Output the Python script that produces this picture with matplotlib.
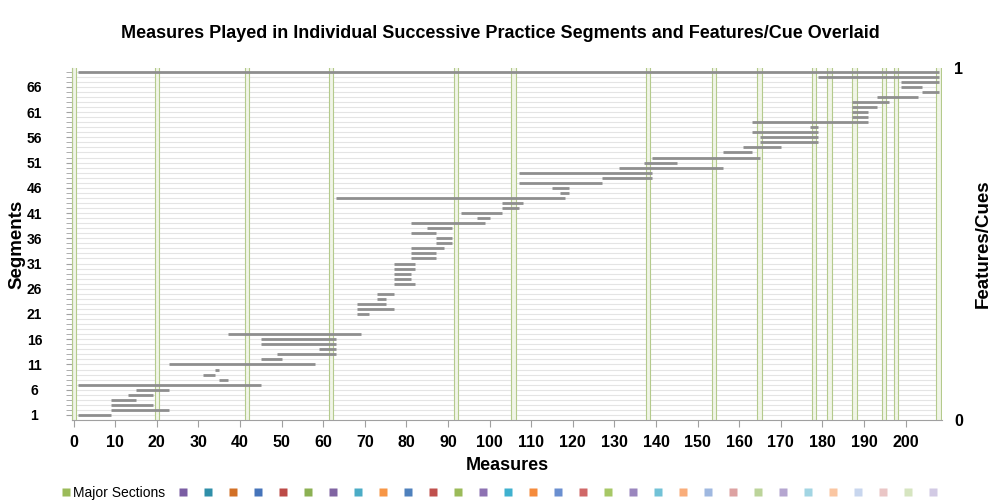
import matplotlib
matplotlib.use("Agg")
import matplotlib.pyplot as plt
from matplotlib.lines import Line2D
import numpy as np

plt.rcParams['font.family'] = ['Liberation Sans', 'DejaVu Sans']

# practice segments: segment number, first and last measure played
seg_num = [1, 2, 3, 4, 5, 6, 7, 8, 9, 10, 11, 12, 13, 14, 15, 16, 17,
           21, 22, 23, 24, 25, 27, 28, 29, 30, 31, 32, 33, 34, 35, 36, 37,
           38, 39, 40, 41, 42, 43, 44, 45, 46, 47, 48, 49, 50, 51, 52, 53,
           54, 55, 56, 57, 58, 59, 60, 61, 62, 63, 64, 65, 66, 67, 68, 69]
seg_start = [1, 9, 9, 9, 13, 15, 1, 35, 31, 34, 23, 45, 49, 59, 45, 45, 37,
             68, 68, 68, 73, 73, 77, 77, 77, 77, 77, 81, 81, 81, 87, 87, 81,
             85, 81, 97, 93, 103, 103, 63, 117, 115, 107, 127, 107, 131, 137, 139, 156,
             161, 165, 165, 163, 177, 163, 187, 187, 187, 187, 193, 204, 199, 199, 179, 1]
seg_end = [9, 23, 19, 15, 19, 23, 45, 37, 34, 35, 58, 50, 63, 63, 63, 63, 69,
           71, 77, 75, 75, 77, 82, 81, 81, 82, 82, 87, 87, 89, 91, 91, 87,
           91, 99, 100, 103, 107, 108, 118, 119, 119, 127, 139, 139, 156, 145, 165, 163,
           170, 179, 179, 179, 179, 191, 191, 191, 193, 196, 203, 208, 204, 208, 208, 208]

# major section boundaries (measures)
sections = [0, 20, 41.75, 61.85, 91.85, 105.75, 138, 153.9, 164.85,
            177.9, 181.7, 187.7, 194.75, 197.7, 207.9]

# feature/cue series shown in the legend only
cue_colors = ['#7A5DA3', '#2F8FA9', '#D27026', '#4674BA', '#BC4A47', '#8CB153',
              '#8064A2', '#4BACC6', '#F79646', '#4F81BD', '#C0504D', '#9BBB59',
              '#8D72B2', '#3FB1CF', '#F58B3C', '#6A8FD0', '#D06868', '#A7C866',
              '#9A86BE', '#72C2D7', '#F9AD7A', '#9FB8E0', '#DDA2A2', '#BCD49A',
              '#B5A6D0', '#A2D5E3', '#FAC6A2', '#C8D6EE', '#EAC6C6', '#D6E5C0',
              '#D2CAE4']

fig = plt.figure(figsize=(10.01, 5.04), dpi=100)
ax = fig.add_axes([0.0719, 0.1667, 0.869, 0.698])

ax.set_xlim(-0.4, 208.7)
ax.set_ylim(0, 69.7)

# row grid, one line per segment
for s in range(1, 70):
    ax.axhline(s, color='#E4E4E4', lw=0.8, zorder=1)

# major sections as narrow double-edged bands
for c in sections:
    ax.axvspan(c - 0.5, c + 0.5, color='#F1F5E8', lw=0, zorder=2)
    ax.axvline(c - 0.5, color='#B4CA8C', lw=0.8, zorder=3)
    ax.axvline(c + 0.5, color='#B4CA8C', lw=0.8, zorder=3)

ax.hlines(seg_num, seg_start, seg_end, color='#8E8E8E', lw=2.0, zorder=4)

for sp in ['top', 'right']:
    ax.spines[sp].set_visible(False)
ax.spines['left'].set_color('#A0A0A0')
ax.spines['bottom'].set_color('#A0A0A0')

ax.set_xticks(np.arange(0, 201, 10))
ax.set_yticks(np.arange(1, 67, 5))
ax.set_yticks(np.arange(1, 70, 1), minor=True)
ax.tick_params(axis='x', length=5, color='#A0A0A0', labelsize=11.5, pad=6)
ax.tick_params(axis='y', which='both', length=4, color='#A0A0A0', labelsize=10, pad=23)
for lbl in ax.get_yticklabels():
    lbl.set_horizontalalignment('center')
    lbl.set_fontweight('bold')
for lbl in ax.get_xticklabels():
    lbl.set_fontweight('bold')

ax.set_xlabel('Measures', fontsize=13, fontweight='bold', labelpad=5)
ax.set_ylabel('Segments', fontsize=13.5, fontweight='bold')
ax.yaxis.set_label_coords(-0.053, 0.5)

ax2 = ax.twinx()
ax2.set_ylim(0, 1)
ax2.set_yticks([0, 1])
ax2.tick_params(axis='y', length=0, labelsize=11.5, pad=9)
for lbl in ax2.get_yticklabels():
    lbl.set_fontweight('bold')
for sp in ax2.spines.values():
    sp.set_visible(False)
ax2.set_ylabel('Features/Cues', fontsize=13.5, fontweight='bold')
ax2.yaxis.set_label_coords(1.038, 0.5)

fig.suptitle('Measures Played in Individual Successive Practice Segments and Features/Cue Overlaid',
             x=0.5, y=0.95, fontsize=13, fontweight='bold')

handles = [Line2D([], [], ls='none', marker='s', ms=6, mfc='#9BBB59', mec='none')]
labels = ['Major Sections']
for col in cue_colors:
    handles.append(Line2D([], [], ls='none', marker='s', ms=6, mfc=col, mec='none'))
    labels.append('')
fig.legend(handles, labels, loc='center left', bbox_to_anchor=(0.055, 0.022),
           ncol=len(handles), frameon=False, fontsize=10, handlelength=0.6,
           handletextpad=0.2, columnspacing=1.0, borderpad=0)

fig.savefig('out.png', dpi=100)
